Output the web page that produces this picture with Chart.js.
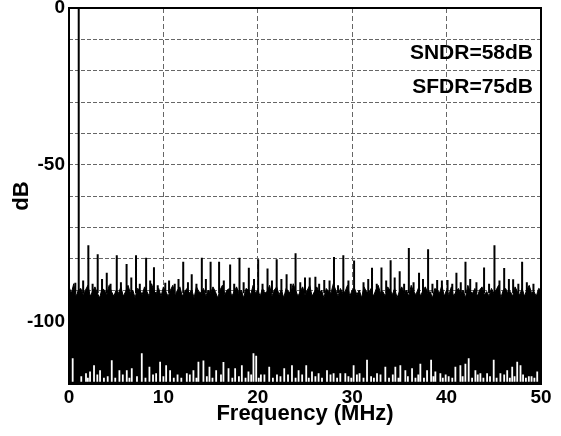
<!DOCTYPE html>
<html>
<head>
<meta charset="utf-8">
<script src="https://cdn.jsdelivr.net/npm/chart.js@4.4.1/dist/chart.umd.min.js"></script>
<style>
  html, body { margin: 0; padding: 0; background: #fff; }
  #spectrum { display: block; }
</style>
</head>
<body>
<canvas id="spectrum" width="561" height="436"></canvas>
<script>
// === DATA ===
const xTicks = [0, 10, 20, 30, 40, 50];
const yLabelTicks = [0, -50, -100];

// noise floor top edge, one sample every 0.25 MHz from 0 to 50 MHz (dB)
const noiseStep = 0.25;
const noiseTop = [
  -89, -91, -88, -92, -90, -89.5, -91.5, -90, -88.5, -92, -90.5, -89, -91, -92.5, -89.5, -90, -91.5, -88.5, -90.5, -92,
  -90, -91, -89, -92, -90.5, -88.5, -91, -90, -92.5, -89.5, -90, -91.5, -89, -90.5, -92, -88, -90.5, -91, -89.5, -92,
  -89, -90.5, -92, -90, -88.5, -91.5, -90, -89, -92, -90.5, -89.5, -91, -90, -92.5, -89, -90.5, -91, -89.5, -92, -90,
  -91, -89, -90.5, -92.5, -90, -88.5, -91.5, -90, -89.5, -92, -90.5, -89, -91, -90, -92.5, -89.5, -90, -91.5, -88.5, -91,
  -90, -92, -89.5, -91, -90.5, -88.5, -92, -90, -89, -91.5, -90, -92.5, -89.5, -90.5, -91, -88, -90, -92, -90.5, -89,
  -91.5, -90, -88.5, -92, -90.5, -89, -91, -90, -92.5, -89.5, -90.5, -91, -88, -90, -92, -89.5, -91, -90.5, -88.5, -92,
  -90, -89.5, -91.5, -90, -92.5, -89, -90.5, -91, -89.5, -92, -90, -88.5, -91, -90.5, -92, -89, -90, -91.5, -89.5, -92.5,
  -90.5, -89, -91, -90, -92, -88.5, -90.5, -91.5, -89.5, -92, -90, -89, -91, -90.5, -92.5, -89.5, -90, -91, -88.5, -92,
  -90, -91.5, -89, -92, -90.5, -89.5, -91, -90, -92.5, -88.5, -90.5, -91, -89.5, -92, -90, -89, -91.5, -90.5, -92, -89.5,
  -91, -90, -88.5, -92.5, -90, -89.5, -91, -90.5, -92, -89, -90.5, -91.5, -89.5, -92, -90, -88.5, -91, -90.5, -92, -89.5,
  -90
];

// white dips reaching up from the bottom of the noise floor
const dipFreq = [
  0.39, 1.80, 2.23, 2.65, 3.29, 4.53, 5.34, 6.12, 6.65, 7.71, 8.52, 9.23, 9.65, 10.29, 10.71, 12.48, 13.18, 13.71, 14.24,
  14.88, 15.59, 16.36, 16.90, 17.60, 18.31, 19.01, 19.54, 19.83, 20.33, 21.21, 22.03, 22.80, 23.62, 24.32, 25.13, 25.74,
  26.44, 27.33, 28.03, 28.74, 29.27, 30.15, 30.78, 31.57, 32.63, 33.51, 34.57, 35.10, 35.63, 36.34, 37.22, 37.93, 38.36,
  38.81, 39.34, 40.22, 40.93, 41.46, 41.99, 42.34, 43.05, 43.58, 44.29, 44.99, 45.70, 46.42, 46.95, 47.48, 47.83, 48.71, 49.60
];
const dipLevel = [
  -111.8, -116.6, -116, -114, -115.6, -112.4, -115.6, -115.6, -115, -110.2, -114.5, -116.6, -112.9, -114, -115.6, -116.6, -115.6, -112.9, -112.5,
  -114.5, -115.6, -113, -115, -115, -114, -116, -110.2, -111, -117, -114.5, -117, -115, -114, -115.6, -114, -116,
  -116.6, -115.6, -116.6, -116.6, -116.6, -114, -116.6, -112.3, -116.6, -114.5, -114.5, -114, -115.6, -115, -113.5, -115.6, -112.3,
  -116, -116.6, -117.5, -114.5, -114, -113.5, -111.8, -115.6, -116.6, -116.6, -112.3, -116.6, -115.6, -114.5, -112.9, -114, -117.5, -116
];

// shallow dips right at the bottom edge
const shallowFreq = [
  1.3, 2.0, 3.0, 3.7, 4.1, 4.9, 5.7, 6.4, 7.2, 8.1, 8.9, 10.0, 11.1, 11.5, 11.9, 12.8, 13.5, 14.6, 15.2, 16.1, 17.3,
  18.0, 18.7, 19.3, 20.1, 20.7, 21.6, 22.4, 23.2, 24.0, 24.7, 25.4, 26.1, 26.8, 27.7, 28.4, 29.6, 29.9, 30.5, 31.2,
  32.0, 32.3, 33.0, 33.9, 34.3, 34.9, 35.9, 36.7, 37.0, 37.6, 38.6, 39.6, 39.9, 40.6, 41.7, 42.7, 43.3, 43.9, 44.6,
  45.3, 46.1, 46.7, 47.2, 48.1, 48.4, 49.0, 49.3
];
const shallowLevel = [
  -117.5, -118, -117, -118, -117.5, -118, -117, -118, -117.5, -118, -117, -117.5, -118, -117, -118, -117, -118, -117.5, -118, -117, -118,
  -117.5, -118, -117, -118, -117, -118, -117.5, -117, -118, -117, -118, -117.5, -118, -117, -118, -117.5, -118, -117, -118,
  -117.5, -118, -117, -118, -117, -118, -117.5, -118, -117, -118, -117.5, -118, -117, -118, -117.5, -118, -117, -118, -117.5,
  -118, -117, -118, -117.5, -117, -118, -117.5, -118
];

// spurs standing above the noise floor
const spurFreq = [
  0.67, 2.05, 3.04, 4.0, 5.06, 6.1, 7.1, 8.17, 9.0, 10.2, 12.1, 13.0, 14.07, 15.0, 15.9, 17.07, 18.06, 19.05, 20.04, 21.03, 22.0,
  23.05, 24.0, 25.0, 26.1, 27.04, 28.07, 29.06, 30.2, 32.1, 33.1, 34.07, 35.03, 36.0, 37.08, 38.04, 39.0, 41.04, 42.0, 43.16,
  43.97, 45.07, 46.1, 47.05, 48.0
];
const spurLevel = [
  -87.7, -75.7, -78.6, -84.5, -78.9, -81.7, -78.9, -79.7, -82.7, -87.7, -81, -85, -79.7, -81, -81, -81.9, -79.7, -82.9, -80.2, -83.1, -80.2,
  -85, -78.3, -86, -85.8, -86.8, -79.5, -78.9, -80.6, -82.9, -82.8, -80.5, -84, -76.6, -84.5, -77, -86.8, -84.5, -81, -87.5,
  -82.8, -75.7, -83, -86.6, -81
];

// small grass spikes just above the floor
const grassFreq = [
  1.5, 2.5, 3.5, 4.4, 5.5, 6.6, 7.5, 8.6, 9.4, 10.6, 11.2, 11.6, 12.6, 13.5, 14.5, 16.4, 17.5, 18.5, 19.6, 20.5, 21.5,
  22.5, 23.5, 24.5, 25.5, 26.5, 27.6, 28.5, 29.6, 31.2, 31.7, 32.6, 33.6, 34.5, 35.5, 36.5, 37.5, 38.5, 39.5, 40.1,
  40.6, 41.5, 42.5, 44.5, 45.6, 46.6, 47.6, 48.5, 49.2
];
const grassLevel = [
  -87, -88, -86.5, -88, -87.5, -86, -88, -87, -88.5, -87, -88, -86.5, -87.5, -88, -86.5, -87, -88, -87.5, -86.5, -88, -87,
  -86.5, -88, -87.5, -86, -88, -87, -88.5, -87, -87.5, -86.5, -88, -87, -86, -88, -87.5, -86.5, -88, -87, -86.8,
  -88, -87.5, -86.5, -88, -87, -86.5, -88, -87.5, -88
];
const spurBase = -91;

const fundFreq = 1.03;
const fundLevel = 0;

const sndrText = "SNDR=58dB";
const sfdrText = "SFDR=75dB";

// === BUILD SERIES ===
const noiseData = noiseTop.map((v, i) => ({ x: i * noiseStep, y: v }));

function sticks(freqs, levels, base) {
  const out = [];
  freqs.forEach((f, i) => {
    out.push({ x: f, y: base }, { x: f, y: levels[i] }, { x: f, y: null });
  });
  return out;
}

const dipData = sticks(dipFreq, dipLevel, -119.3).concat(sticks(shallowFreq, shallowLevel, -119.3));
const spurData = sticks(spurFreq, spurLevel, spurBase).concat(sticks(grassFreq, grassLevel, spurBase));
const fundData = [{ x: fundFreq, y: -120 }, { x: fundFreq, y: fundLevel }];

const FONT = "'Liberation Sans', Arial, Helvetica, sans-serif";

// frame + SNDR/SFDR labels
const framePlugin = {
  id: "frame",
  afterDraw(chart) {
    const { ctx, chartArea: a } = chart;
    ctx.save();
    ctx.strokeStyle = "#000";
    ctx.lineWidth = 2;
    ctx.strokeRect(a.left, a.top, a.right - a.left, a.bottom - a.top);
    ctx.fillStyle = "#000";
    ctx.font = "bold 21px " + FONT;
    ctx.textAlign = "right";
    ctx.textBaseline = "middle";
    ctx.fillText(sndrText, 533, 53);
    ctx.fillText(sfdrText, 533, 87);
    ctx.restore();
  }
};

new Chart(document.getElementById("spectrum"), {
  type: "line",
  data: {
    datasets: [
      {
        data: fundData,
        borderColor: "#000",
        borderWidth: 2,
        pointRadius: 0,
        order: 1
      },
      {
        data: spurData,
        borderColor: "#000",
        borderWidth: 2,
        pointRadius: 0,
        order: 2
      },
      {
        data: dipData,
        borderColor: "#fff",
        borderWidth: 1.8,
        pointRadius: 0,
        order: 3
      },
      {
        data: noiseData,
        borderColor: "#000",
        borderWidth: 1,
        backgroundColor: "#000",
        fill: "start",
        pointRadius: 0,
        order: 4
      }
    ]
  },
  options: {
    responsive: false,
    animation: false,
    devicePixelRatio: 1,
    layout: { padding: { left: 0, right: 20, top: 8, bottom: 0 } },
    plugins: {
      legend: { display: false },
      tooltip: { enabled: false }
    },
    elements: { line: { tension: 0 } },
    scales: {
      x: {
        type: "linear",
        min: 0,
        max: 50,
        afterBuildTicks: s => { s.ticks = xTicks.map(v => ({ value: v })); },
        afterFit: s => { s.height = 52; s.paddingLeft = 0; s.paddingRight = 0; },
        ticks: {
          color: "#000",
          padding: 2,
          maxRotation: 0,
          font: { family: FONT, size: 19, weight: "bold" }
        },
        grid: { color: "#666", lineWidth: 1, drawTicks: false },
        border: { display: false, dash: [5, 3] },
        title: {
          display: true,
          text: "Frequency (MHz)",
          color: "#000",
          padding: { top: 0, bottom: 9 },
          font: { family: FONT, size: 22, weight: "bold" }
        }
      },
      y: {
        min: -120,
        max: 0,
        afterFit: s => { s.width = 69; s.paddingTop = 0; s.paddingBottom = 0; },
        ticks: {
          stepSize: 10,
          color: "#000",
          padding: 4,
          font: { family: FONT, size: 19, weight: "bold" },
          callback: v => (yLabelTicks.includes(v) ? v : "")
        },
        grid: { color: "#666", lineWidth: 1, drawTicks: false },
        border: { display: false, dash: [4, 2] },
        title: {
          display: true,
          text: "dB",
          color: "#000",
          padding: { top: 9, bottom: 0 },
          font: { family: FONT, size: 22, weight: "bold" }
        }
      }
    }
  },
  plugins: [framePlugin]
});
</script>
</body>
</html>
